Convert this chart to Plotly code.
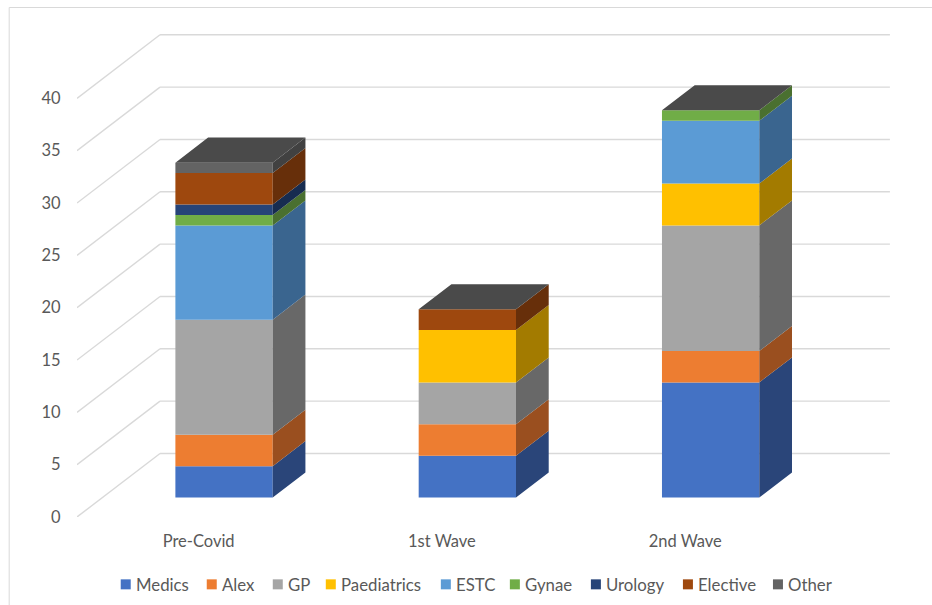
import plotly.graph_objects as go

categories = ["Pre-Covid", "1st Wave", "2nd Wave"]
medics = [3, 4, 11]
alex = [3, 3, 3]
gp = [11, 4, 12]
paediatrics = [0, 5, 4]
estc = [9, 0, 6]
gynae = [1, 0, 1]
urology = [1, 0, 0]
elective = [3, 2, 0]
other = [1, 0, 0]
y_ticks = [0, 5, 10, 15, 20, 25, 30, 35, 40]

series = [
    ("Medics", medics, "#4472C4", "#2A4579"),
    ("Alex", alex, "#ED7D31", "#9A4F1F"),
    ("GP", gp, "#A5A5A5", "#686868"),
    ("Paediatrics", paediatrics, "#FFC000", "#A37B00"),
    ("ESTC", estc, "#5B9BD5", "#3A658F"),
    ("Gynae", gynae, "#70AD47", "#4A7030"),
    ("Urology", urology, "#264478", "#172C50"),
    ("Elective", elective, "#9E480E", "#672F0A"),
    ("Other", other, "#636363", "#414141"),
]
legend_left_px = [121, 207, 273, 326, 441, 510, 591, 683, 773]
TOP_COLOR = "#4A4A4A"
GRID = "#D9D9D9"
TEXT = "#595959"

W, H = 932, 605
L, R_EDGE, T_EDGE, B_EDGE = 77.3, 895, 20, 516.7
PX_X = 243.2
PX_Y = 10.46
DX = 83 / PX_X      # floor depth in x units
DY = 63.5 / PX_Y    # floor depth in y units
GAP = 0.306         # depth fraction in front of each column
DEPTH = 0.394       # depth fraction of each column
BAR_W = 0.4

fig = go.Figure()
stack = [0, 0, 0]
for name, vals, front, side in series:
    bases = [stack[i] + GAP * DY for i in range(3)]
    sx, sy = [], []
    for i, v in enumerate(vals):
        if v > 0:
            x1 = i + GAP * DX + BAR_W / 2
            b = bases[i]
            sx += [x1, x1 + DEPTH * DX, x1 + DEPTH * DX, x1, x1, None]
            sy += [b, b + DEPTH * DY, b + v + DEPTH * DY, b + v, b, None]
    fig.add_trace(go.Scatter(x=sx, y=sy, mode="lines", fill="toself", fillcolor=side,
                             line=dict(width=0, color=side), showlegend=False, hoverinfo="skip"))
    fig.add_trace(go.Bar(x=[i + GAP * DX for i in range(3)], y=vals, base=bases, width=BAR_W,
                         name=name, showlegend=False, marker=dict(color=front, line=dict(width=0))))
    stack = [stack[i] + vals[i] for i in range(3)]

tx, ty = [], []
for i in range(3):
    x0 = i + GAP * DX - BAR_W / 2
    x1 = x0 + BAR_W
    b = stack[i] + GAP * DY
    tx += [x0, x1, x1 + DEPTH * DX, x0 + DEPTH * DX, x0, None]
    ty += [b, b, b + DEPTH * DY, b + DEPTH * DY, b, None]
fig.add_trace(go.Scatter(x=tx, y=ty, mode="lines", fill="toself", fillcolor=TOP_COLOR,
                         line=dict(width=0, color=TOP_COLOR), showlegend=False, hoverinfo="skip"))

x_min = -0.5
x_max = x_min + (R_EDGE - L) / PX_X
y_max = (B_EDGE - T_EDGE) / PX_Y
x_back_end = x_min + 3 + DX

shapes = []
for t in y_ticks:
    shapes.append(dict(type="line", xref="x", yref="y", x0=x_min, y0=t, x1=x_min + DX, y1=t + DY,
                       line=dict(color=GRID, width=1.4), layer="below"))
    shapes.append(dict(type="line", xref="x", yref="y", x0=x_min + DX, y0=t + DY, x1=x_back_end, y1=t + DY,
                       line=dict(color=GRID, width=1.4), layer="below"))

plot_w = R_EDGE - L
plot_h = B_EDGE - T_EDGE
px_to_paper_x = lambda p: (p - L) / plot_w
px_to_paper_y = lambda p: (B_EDGE - p) / plot_h
shapes.append(dict(type="line", xref="paper", yref="paper", x0=px_to_paper_x(9.5), y0=px_to_paper_y(7.5),
                   x1=px_to_paper_x(9.5), y1=px_to_paper_y(605), line=dict(color=GRID, width=1), layer="below"))
shapes.append(dict(type="line", xref="paper", yref="paper", x0=px_to_paper_x(9.5), y0=px_to_paper_y(7.5),
                   x1=px_to_paper_x(932), y1=px_to_paper_y(7.5), line=dict(color=GRID, width=1), layer="below"))

annotations = []
for (name, _, front, _s), left in zip(series, legend_left_px):
    shapes.append(dict(type="rect", xref="paper", yref="paper", x0=px_to_paper_x(left), x1=px_to_paper_x(left + 10),
                       y0=px_to_paper_y(589), y1=px_to_paper_y(579), fillcolor=front, line=dict(width=0)))
    annotations.append(dict(text=name, xref="paper", yref="paper", x=px_to_paper_x(left + 13), y=px_to_paper_y(584),
                            xanchor="left", yanchor="middle", showarrow=False,
                            font=dict(size=16.8, color=TEXT)))

fig.update_layout(
    width=W, height=H,
    margin=dict(l=L, r=W - R_EDGE, t=T_EDGE, b=H - B_EDGE, autoexpand=False),
    paper_bgcolor="white", plot_bgcolor="white",
    barmode="overlay",
    font=dict(family="Lato, Carlito, sans-serif", size=16.5, color=TEXT),
    shapes=shapes,
    annotations=annotations,
    showlegend=False,
    xaxis=dict(range=[x_min, x_max], tickmode="array", tickvals=[0, 1, 2], ticktext=categories,
               showgrid=False, zeroline=False, showline=False, ticks="outside", ticklen=9,
               tickcolor="rgba(0,0,0,0)"),
    yaxis=dict(range=[0, y_max], tickmode="array", tickvals=y_ticks, showgrid=False, zeroline=False,
               showline=False, ticks="outside", ticklen=12, tickcolor="rgba(0,0,0,0)"),
)
fig.write_html("out.html", config={"displayModeBar": False},
               post_script="document.body.style.margin='0';document.documentElement.style.overflow='hidden';")
